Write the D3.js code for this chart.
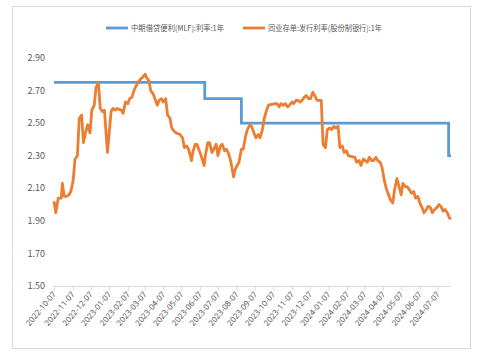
<!DOCTYPE html>
<html><head><meta charset="utf-8">
<script src="https://cdn.jsdelivr.net/npm/d3@7"></script>
<style>
html,body{margin:0;padding:0;background:#fff;}
svg text{font-family:"Noto Sans CJK SC","Noto Sans","Liberation Sans",sans-serif;fill:#595959;}
</style></head>
<body><svg id="c" width="481" height="357"></svg>
<script>
const seriesNames = ["中期借贷便利(MLF):利率:1年", "同业存单:发行利率(股份制银行):1年"];
const mlfDates = ["2022-10-07","2023-06-15","2023-08-15","2024-07-25","2024-07-29"];
const mlfValues = [2.75, 2.65, 2.50, 2.30, 2.30];
const ncdDates = ["2022-10-07","2022-10-10","2022-10-14","2022-10-19","2022-10-21","2022-10-24","2022-10-28","2022-11-01","2022-11-04","2022-11-08","2022-11-11","2022-11-15","2022-11-18","2022-11-22","2022-11-25","2022-11-29","2022-12-02","2022-12-06","2022-12-09","2022-12-13","2022-12-16","2022-12-20","2022-12-23","2022-12-27","2022-12-30","2023-01-04","2023-01-06","2023-01-10","2023-01-13","2023-01-17","2023-01-20","2023-01-27","2023-01-30","2023-02-03","2023-02-07","2023-02-10","2023-02-14","2023-02-17","2023-02-21","2023-02-24","2023-02-28","2023-03-03","2023-03-08","2023-03-10","2023-03-14","2023-03-17","2023-03-21","2023-03-24","2023-03-28","2023-03-31","2023-04-04","2023-04-07","2023-04-11","2023-04-14","2023-04-18","2023-04-21","2023-04-25","2023-04-28","2023-05-05","2023-05-09","2023-05-12","2023-05-16","2023-05-19","2023-05-24","2023-05-26","2023-05-30","2023-06-02","2023-06-06","2023-06-09","2023-06-14","2023-06-16","2023-06-20","2023-06-23","2023-06-27","2023-06-30","2023-07-04","2023-07-07","2023-07-11","2023-07-14","2023-07-18","2023-07-21","2023-07-25","2023-07-28","2023-08-02","2023-08-04","2023-08-08","2023-08-11","2023-08-15","2023-08-18","2023-08-22","2023-08-25","2023-08-29","2023-09-01","2023-09-05","2023-09-08","2023-09-12","2023-09-15","2023-09-19","2023-09-22","2023-09-26","2023-09-29","2023-10-10","2023-10-13","2023-10-17","2023-10-20","2023-10-24","2023-10-27","2023-10-31","2023-11-03","2023-11-07","2023-11-10","2023-11-14","2023-11-17","2023-11-21","2023-11-24","2023-11-28","2023-12-01","2023-12-05","2023-12-08","2023-12-12","2023-12-15","2023-12-19","2023-12-22","2023-12-26","2023-12-29","2024-01-02","2024-01-05","2024-01-09","2024-01-12","2024-01-16","2024-01-19","2024-01-23","2024-01-26","2024-01-30","2024-02-02","2024-02-06","2024-02-09","2024-02-20","2024-02-23","2024-02-27","2024-03-01","2024-03-05","2024-03-08","2024-03-12","2024-03-15","2024-03-19","2024-03-22","2024-03-26","2024-03-29","2024-04-02","2024-04-05","2024-04-09","2024-04-12","2024-04-16","2024-04-19","2024-04-23","2024-04-26","2024-04-30","2024-05-07","2024-05-10","2024-05-14","2024-05-17","2024-05-21","2024-05-24","2024-05-28","2024-05-31","2024-06-04","2024-06-07","2024-06-11","2024-06-14","2024-06-18","2024-06-21","2024-06-25","2024-06-28","2024-07-02","2024-07-05","2024-07-09","2024-07-12","2024-07-16","2024-07-19","2024-07-23","2024-07-26","2024-07-29"];
const ncdValues = [2.02,1.95,2.04,2.04,2.13,2.05,2.05,2.06,2.08,2.15,2.28,2.30,2.53,2.55,2.38,2.45,2.49,2.44,2.58,2.61,2.72,2.75,2.59,2.57,2.58,2.32,2.40,2.57,2.59,2.58,2.59,2.58,2.56,2.63,2.62,2.65,2.66,2.70,2.73,2.75,2.77,2.78,2.80,2.78,2.76,2.70,2.68,2.65,2.61,2.64,2.65,2.63,2.65,2.55,2.53,2.47,2.45,2.44,2.43,2.41,2.35,2.36,2.34,2.27,2.32,2.37,2.37,2.33,2.30,2.24,2.30,2.38,2.38,2.32,2.34,2.37,2.30,2.36,2.37,2.33,2.34,2.31,2.27,2.17,2.21,2.24,2.26,2.34,2.34,2.42,2.46,2.49,2.48,2.44,2.41,2.43,2.41,2.46,2.53,2.58,2.61,2.62,2.62,2.60,2.62,2.61,2.62,2.60,2.61,2.63,2.62,2.64,2.64,2.63,2.64,2.66,2.67,2.65,2.65,2.69,2.67,2.64,2.64,2.64,2.37,2.35,2.46,2.47,2.46,2.48,2.47,2.48,2.35,2.36,2.32,2.33,2.30,2.29,2.26,2.27,2.24,2.28,2.27,2.26,2.29,2.27,2.27,2.29,2.27,2.26,2.23,2.15,2.10,2.06,2.03,2.01,2.09,2.16,2.06,2.13,2.11,2.11,2.09,2.07,2.08,2.04,2.05,2.01,1.98,1.95,1.97,1.99,1.98,1.95,1.97,1.98,2.00,1.99,1.96,1.97,1.95,1.92,1.91];
const tickLabels = ["2022-10-07","2022-11-07","2022-12-07","2023-01-07","2023-02-07","2023-03-07","2023-04-07","2023-05-07","2023-06-07","2023-07-07","2023-08-07","2023-09-07","2023-10-07","2023-11-07","2023-12-07","2024-01-07","2024-02-07","2024-03-07","2024-04-07","2024-05-07","2024-06-07","2024-07-07"];
const yTicks = [1.50,1.70,1.90,2.10,2.30,2.50,2.70,2.90];
const colors = ["#5B9BD5","#ED7D31"];

const parse = d3.timeParse("%Y-%m-%d");
const svg = d3.select("#c");
svg.append("rect").attr("x",12.5).attr("y",6.5).attr("width",458).attr("height",342)
  .attr("fill","#fff").attr("stroke","#d9d9d9").attr("stroke-width",1);

const x = d3.scaleTime().domain([parse("2022-10-07"), parse("2024-07-29")]).range([54,451]);
const y = d3.scaleLinear().domain([1.5,2.9]).range([286,58]);

// y labels
svg.append("g").selectAll("text").data(yTicks).join("text")
  .attr("x",45).attr("y",d=>y(d)).attr("dy","0.35em").attr("text-anchor","end")
  .attr("font-size","9px").text(d=>d.toFixed(2));

// x axis
const xAxis = d3.axisBottom(x).tickValues(tickLabels.map(parse)).tickSize(4).tickFormat(d3.timeFormat("%Y-%m-%d"));
const gx = svg.append("g").attr("transform","translate(0,286.5)").call(xAxis);
gx.select(".domain").attr("stroke","#d9d9d9").attr("d","M53,0H451");
gx.selectAll(".tick line").attr("stroke","#d9d9d9");
gx.selectAll(".tick text").attr("font-size","8px").attr("fill","#595959")
  .attr("text-anchor","end").attr("dx","0").attr("dy","0")
  .attr("transform","translate(2,8) rotate(-50)")
  .attr("y",0).attr("x",0)
  .style("font-family",'"Noto Sans","Liberation Sans",sans-serif');

// lines
const mlf = mlfDates.map((d,i)=>({d:parse(d),v:mlfValues[i]}));
const ncd = ncdDates.map((d,i)=>({d:parse(d),v:ncdValues[i]}));
svg.append("path").datum(mlf).attr("fill","none").attr("stroke",colors[0]).attr("stroke-width",2.8)
  .attr("d",d3.line().x(d=>x(d.d)).y(d=>y(d.v)).curve(d3.curveStepAfter));
svg.append("path").datum(ncd).attr("fill","none").attr("stroke",colors[1]).attr("stroke-width",2.8)
  .attr("stroke-linejoin","round")
  .attr("d",d3.line().x(d=>x(d.d)).y(d=>y(d.v)));

// legend
const leg = [{x0:106,x1:128,tx:131,len:93},{x0:243,x1:265,tx:268,len:114}];
leg.forEach((l,i)=>{
  svg.append("line").attr("x1",l.x0).attr("x2",l.x1).attr("y1",28).attr("y2",28)
    .attr("stroke",colors[i]).attr("stroke-width",2.8);
  svg.append("text").attr("x",l.tx).attr("y",28).attr("dy","0.35em").attr("font-size","8px")
    .attr("textLength",l.len).attr("lengthAdjust","spacingAndGlyphs")
    .text(seriesNames[i]);
});
</script></body></html>
